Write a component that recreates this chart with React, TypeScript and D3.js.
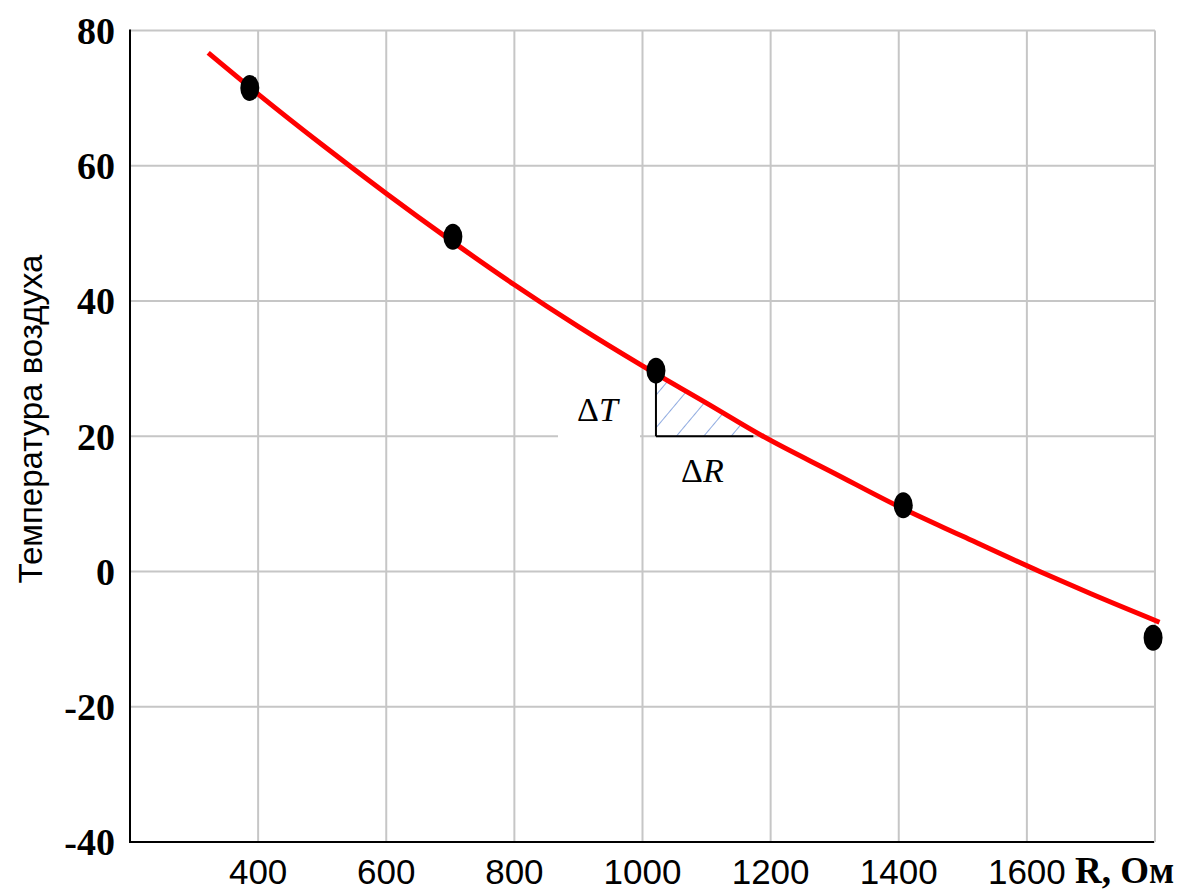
import React from "react";
import * as d3 from "d3";

// Measured points (R, Ом ; T, °C)
const pointR = [387, 704, 1021, 1407, 1797];
const pointT = [71.5, 49.5, 29.7, 9.8, -9.8];

// Approximating curve
const curveR = [322, 400, 500, 600, 700, 800, 900, 1000, 1100, 1188, 1300, 1400, 1500, 1620, 1700, 1807];
const curveT = [76.7, 70.6, 63.1, 55.9, 49.0, 42.4, 36.2, 30.4, 24.9, 20.0, 14.5, 9.6, 5.2, 0.0, -3.3, -7.5];

// Axis ticks
const xGrid = [400, 600, 800, 1000, 1200, 1400, 1600, 1800];
const xLabels = ["400", "600", "800", "1000", "1200", "1400", "1600"];
const yTicks = [80, 60, 40, 20, 0, -20, -40];

// Annotation triangle (ΔT, ΔR)
const triR = [1021, 1173];
const triT = [28.0, 20];
const hatchR = [1021, 1060, 1100, 1140, 1188];
const hatchT = [29.7, 27.3, 24.9, 22.5, 20.0];

const W = 1189;
const H = 892;
const left = 130;
const right = 1155;
const top = 30.5;
const bottom = 842;

export default function App() {
  const x = d3.scaleLinear().domain([200, 1800]).range([left, right]);
  const y = d3.scaleLinear().domain([-40, 80]).range([bottom, top]);

  const curveData = curveR.map((r, i) => [r, curveT[i]] as [number, number]);
  const line = d3
    .line<[number, number]>()
    .x((d) => x(d[0]))
    .y((d) => y(d[1]))
    .curve(d3.curveMonotoneX);

  const hatchPoly =
    hatchR.map((r, i) => `${x(r)},${y(hatchT[i])}`).join(" ") +
    ` ${x(triR[0])},${y(20)}`;

  const serif = "'Liberation Serif', 'Times New Roman', serif";
  const sans = "'Liberation Sans', Arial, sans-serif";

  return (
    <svg
      width={W}
      height={H}
      style={{ position: "absolute", left: 0, top: 0, background: "#fff" }}
    >
      <defs>
        <pattern
          id="hatch"
          patternUnits="userSpaceOnUse"
          width={21}
          height={21}
          patternTransform="rotate(40)"
        >
          <line x1={0} y1={0} x2={0} y2={21} stroke="#6a8fd6" strokeWidth={1.5} />
        </pattern>
        <clipPath id="hatchClip">
          <polygon points={hatchPoly} />
        </clipPath>
      </defs>
      <rect x={0} y={0} width={W} height={H} fill="#fff" />

      {/* grid */}
      {xGrid.map((v) => (
        <line
          key={"gx" + v}
          x1={x(v)}
          x2={x(v)}
          y1={y(80)}
          y2={y(-40)}
          stroke="#c6c6c6"
          strokeWidth={2}
        />
      ))}
      {yTicks.map((v) => (
        <line
          key={"gy" + v}
          x1={left}
          x2={right}
          y1={y(v)}
          y2={y(v)}
          stroke="#c6c6c6"
          strokeWidth={2}
        />
      ))}
      {/* gap behind ΔT label */}
      <rect x={558} y={y(20) - 4} width={82} height={8} fill="#fff" />

      {/* axes */}
      <line x1={left} x2={left} y1={top - 1} y2={bottom + 1} stroke="#000" strokeWidth={2} />
      <line x1={left} x2={right - 1} y1={bottom} y2={bottom} stroke="#000" strokeWidth={2} />

      {/* y tick labels */}
      {yTicks.map((v) => (
        <text
          key={"ty" + v}
          x={115}
          y={y(v)}
          dy="0.35em"
          textAnchor="end"
          fontFamily={serif}
          fontWeight="bold"
          fontSize={38}
          fill="#000"
        >
          {v}
        </text>
      ))}

      {/* x tick labels */}
      {xLabels.map((t) => (
        <text
          key={"tx" + t}
          x={x(+t)}
          y={884}
          textAnchor="middle"
          fontFamily={sans}
          fontSize={35}
          fill="#000"
        >
          {t}
        </text>
      ))}
      <text
        x={1075}
        y={883}
        fontFamily={serif}
        fontWeight="bold"
        fontSize={37}
        fill="#000"
      >
        R, Ом
      </text>

      {/* y axis title */}
      <text
        transform={`translate(42, 419) rotate(-90)`}
        textAnchor="middle"
        fontFamily={sans}
        fontSize={33}
        fill="#000"
      >
        Температура воздуха
      </text>

      {/* hatch triangle */}
      <rect
        x={x(triR[0])}
        y={y(32)}
        width={x(1200) - x(triR[0])}
        height={y(20) - y(32) + 3}
        fill="url(#hatch)"
        clipPath="url(#hatchClip)"
      />
      <line
        x1={x(triR[0])}
        x2={x(triR[0])}
        y1={y(triT[0])}
        y2={y(triT[1])}
        stroke="#000"
        strokeWidth={2}
      />
      <line
        x1={x(triR[0])}
        x2={x(triR[1])}
        y1={y(20)}
        y2={y(20)}
        stroke="#000"
        strokeWidth={2}
      />

      {/* curve */}
      <path d={line(curveData) || ""} fill="none" stroke="#ff0000" strokeWidth={5} />

      {/* points */}
      {pointR.map((r, i) => (
        <ellipse key={"p" + i} cx={x(r)} cy={y(pointT[i])} rx={9.5} ry={13} fill="#000" />
      ))}

      {/* annotations */}
      <text x={577} y={421} fontFamily={serif} fontSize={34} fill="#000">
        Δ<tspan fontStyle="italic">T</tspan>
      </text>
      <text x={681} y={482} fontFamily={serif} fontSize={34} fill="#000">
        Δ<tspan fontStyle="italic">R</tspan>
      </text>
    </svg>
  );
}
